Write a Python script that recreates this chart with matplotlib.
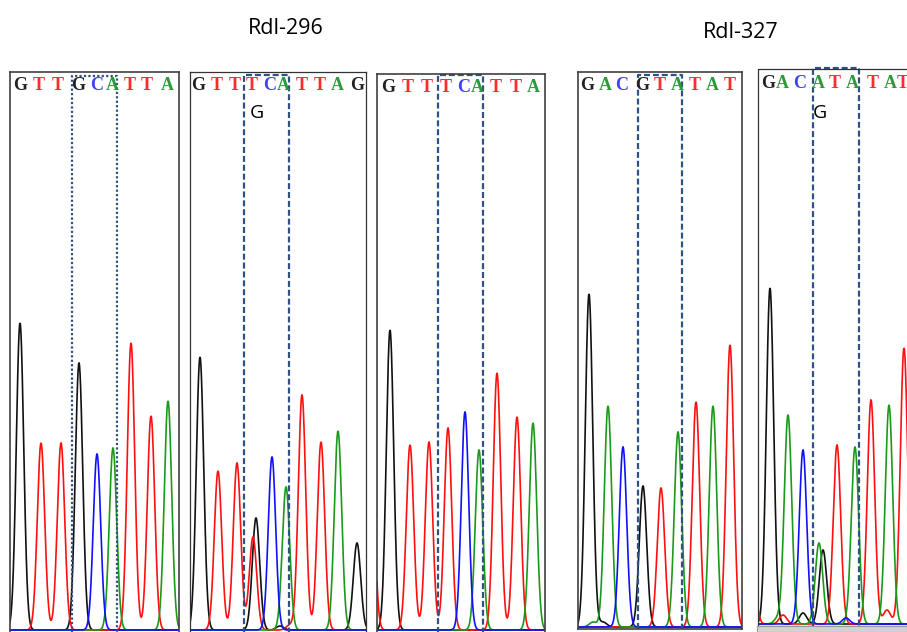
import numpy as np
import matplotlib
matplotlib.use("Agg")
import matplotlib.pyplot as plt
from matplotlib.patches import Rectangle

# ---------------- data ----------------
titles = ["Rdl-296", "Rdl-327"]

# base calls shown above each trace and their scan positions
p1_bases = "GTTGCATTA"
p1_base_pos = [10, 29, 48, 68, 87, 102, 120, 137, 157]
p2_bases = "GTTTCATTAG"
p2_base_pos = [8, 27, 45, 62, 80, 93, 112, 130, 147, 167]
p3_bases = "GTTTCATTA"
p3_base_pos = [11, 31, 50, 69, 87, 100, 119, 139, 156]
p4_bases = "GACGTATAT"
p4_base_pos = [9, 27, 44, 64, 82, 99, 117, 134, 152]
p5_bases = "GACATATAT"
p5_base_pos = [10, 24, 42, 60, 77, 94, 115, 132, 145]

# chromatogram peaks: dye (base), scan position, signal height
p1_peak_base = "GTTGCATTA"
p1_peak_pos = [10, 31, 51, 69, 87, 103, 121, 141, 158]
p1_peak_h = [307, 187, 187, 267, 176, 182, 287, 214, 229]

p2_peak_base = "GTTTGCATTAGGT"
p2_peak_pos = [10, 28, 47, 63, 66, 82, 96, 112, 131, 148, 167, 90, 100]
p2_peak_h = [273, 159, 167, 93, 112, 173, 143, 235, 188, 199, 87, 4, 5]

p3_peak_base = "TGTTTCATTA"
p3_peak_pos = [-6, 13, 33, 52, 71, 88, 102, 120, 140, 156]
p3_peak_h = [180, 300, 185, 188, 202, 218, 180, 257, 213, 207]

p4_peak_base = "GACGTATATAG"
p4_peak_pos = [11, 30, 45, 65, 83, 100, 118, 135, 152, 15, 25]
p4_peak_h = [333, 221, 180, 141, 139, 195, 225, 221, 282, 5, 5]

p5_peak_base = "GACAGTATATTTGCAT"
p5_peak_pos = [12, 30, 45, 61, 65, 79, 97, 113, 131, 146, -6, 25, 45, 88, 20, 129]
p5_peak_h = [336, 209, 174, 81, 74, 179, 177, 224, 219, 276, 60, 9, 11, 6, 6, 14]

# highlighted codon windows (scan units) and the secondary base call
p1_window = (62, 107)
p2_window = (54, 99)
p3_window = (61, 106)
p4_window = (60, 104)
p5_window = (55, 101)
p2_alt = ("G", 67)
p5_alt = ("G", 62)

# ---------------- layout / style ----------------
W, H = 907, 632
fig = plt.figure(figsize=(W / 100, H / 100), dpi=100)

dye_color = {"G": "#111111", "T": "#ff1010", "C": "#1010ff", "A": "#1a9a1a"}
letter_color = {"G": "#222222", "T": "#ff2a2a", "C": "#4040ff", "A": "#2a9a3a"}
SIG = 3.7
BOX_COLOR = "#2E5283"


def peak_shape(d):
    return np.exp(-0.5 * (d / SIG) ** 2)


panels = [
    dict(bases=p1_bases, bpos=p1_base_pos, pb=p1_peak_base, pp=p1_peak_pos, ph=p1_peak_h,
         win=p1_window, alt=None, L=10, R=179, T=72, B=634, base=630, border="solid",
         boxtop=76, ly=86, boxls=(0, (1, 1))),
    dict(bases=p2_bases, bpos=p2_base_pos, pb=p2_peak_base, pp=p2_peak_pos, ph=p2_peak_h,
         win=p2_window, alt=p2_alt, L=190, R=366, T=72, B=634, base=630, border="dotted",
         boxtop=75, ly=85, boxls=(0, (2.7, 1.3))),
    dict(bases=p3_bases, bpos=p3_base_pos, pb=p3_peak_base, pp=p3_peak_pos, ph=p3_peak_h,
         win=p3_window, alt=None, L=377, R=545, T=74, B=634, base=630, border="solid",
         boxtop=75, ly=88, boxls=(0, (2.7, 1.3))),
    dict(bases=p4_bases, bpos=p4_base_pos, pb=p4_peak_base, pp=p4_peak_pos, ph=p4_peak_h,
         win=p4_window, alt=None, L=578, R=742, T=72, B=629, base=627, border="solid",
         boxtop=75, ly=86, boxls=(0, (2.7, 1.3))),
    dict(bases=p5_bases, bpos=p5_base_pos, pb=p5_peak_base, pp=p5_peak_pos, ph=p5_peak_h,
         win=p5_window, alt=p5_alt, L=758, R=940, T=69, B=626, base=624, border="dotted",
         boxtop=68, ly=83, boxls=(0, (2.7, 1.3))),
]

for p in panels:
    L, R, T, B, base = p["L"], p["R"], p["T"], p["B"], p["base"]
    ax = fig.add_axes([L / W, (H - B) / H, (R - L) / W, (B - T) / H])
    width = R - L
    ax.set_xlim(0, width)
    ax.set_ylim(-(B - base), base - T)
    ax.set_xticks([])
    ax.set_yticks([])
    ax.patch.set_alpha(0)
    for side, sp in ax.spines.items():
        if p["border"] == "solid":
            sp.set_color("#404040")
            sp.set_linewidth(1.2)
        else:
            sp.set_color("#333333")
            sp.set_linewidth(0.9)
            sp.set_linestyle((0, (1, 1)))
    if B > H:
        ax.spines["bottom"].set_visible(False)

    # traces
    xs = np.linspace(0, width, int(width * 4))
    for dye in ["G", "T", "A", "C"]:
        y = np.zeros_like(xs)
        for b, pos, h in zip(p["pb"], p["pp"], p["ph"]):
            if b == dye:
                y += h * peak_shape(xs - pos)
        ax.plot(xs, y, color=dye_color[dye], lw=1.2, solid_joinstyle="miter")

    # base letters
    for b, pos in zip(p["bases"], p["bpos"]):
        ax.text(pos, base - p["ly"], b, color=letter_color[b], ha="center", va="center",
                fontsize=13, fontweight="bold", family="Liberation Serif")

    # highlight window
    x0, x1 = p["win"]
    yt = base - p["boxtop"]
    yb = -(B - base)
    ax.plot([x0, x0, x1, x1], [yb, yt, yt, yb], color=BOX_COLOR, lw=1.6,
            linestyle=p["boxls"], clip_on=False)

    if p["alt"] is not None:
        ax.text(p["alt"][1], base - 113, p["alt"][0], ha="center", va="center",
                fontsize=14, family="Open Sans", color="black")

# bottom grey bar under the last panel
fig.patches.append(Rectangle((757 / W, 0), (W - 757) / W, 6 / H, transform=fig.transFigure,
                             facecolor="#d2d2d2", edgecolor="#9a9a9a", lw=0.8))

fig.text(286 / W, 1 - 28 / H, titles[0], ha="center", va="center", fontsize=15.5,
         family="Open Sans")
fig.text(741 / W, 1 - 33 / H, titles[1], ha="center", va="center", fontsize=15.5,
         family="Open Sans")

fig.savefig("out.png", dpi=100)
